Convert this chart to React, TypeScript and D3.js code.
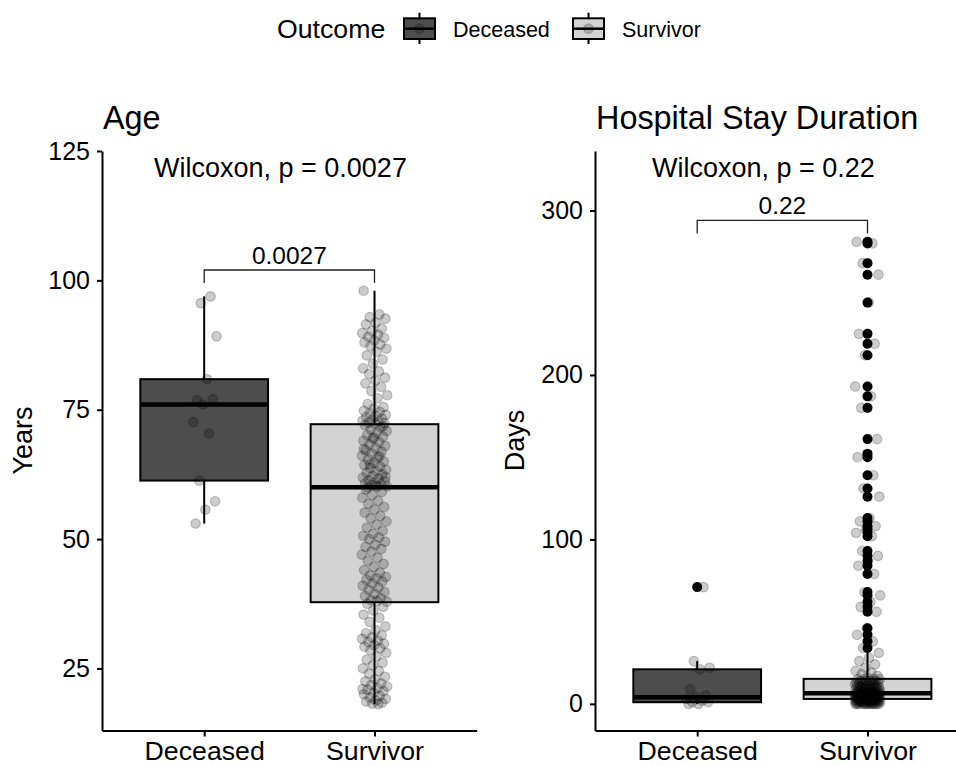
import { useEffect, useRef } from 'react';
import * as d3 from 'd3';

const groups = ['Deceased', 'Survivor'];

// Age (years)
const ageDeceased = [96.9, 95.6, 89.2, 80.9, 76.8, 77.0, 76.0, 72.6, 70.4, 61.3, 57.3, 55.7, 53.0];
const ageSurvivor = [
  98.0, 93.4, 92.9, 92.6, 91.8, 91.5, 90.7, 90.2, 89.8, 89.5, 89.1, 88.9, 88.4, 88.0, 87.6, 87.3,
  86.8, 86.2, 85.5, 84.7, 83.9, 83.0, 82.4, 81.9, 81.2, 80.6, 80.1, 79.4, 78.6, 77.8, 77.2, 76.1,
  75.5, 75.2, 74.8, 74.6, 74.3, 74.0, 73.8, 73.6, 73.3, 73.1, 72.9, 72.7, 72.5, 72.4, 72.3,
  72.0, 71.6, 71.2, 70.9, 70.5, 70.1, 69.8, 69.4, 69.0, 68.7, 68.3, 68.0, 67.6, 67.2, 66.9, 66.5,
  66.1, 65.8, 65.4, 65.0, 64.7, 64.3, 64.0, 63.7, 63.4, 63.1, 62.8, 62.5, 62.2, 61.9, 61.7, 61.4,
  61.2, 61.0, 60.8, 60.6, 60.4, 60.2, 60.1, 60.0, 71.8, 69.6, 67.4, 66.0, 64.5, 62.0, 60.3,
  59.6, 59.1, 58.5, 58.0, 57.4, 56.8, 56.2, 55.7, 55.1, 54.5, 54.0, 53.4, 52.8, 52.2, 51.6, 51.0,
  50.6, 50.3, 50.0, 49.5, 48.9, 48.5, 48.1, 47.6, 47.0, 46.4, 45.8, 45.2, 44.6, 44.0, 43.5, 43.0,
  42.7, 42.4, 42.1, 41.8, 41.4, 41.0, 40.6, 40.2, 39.8, 39.4, 39.0, 38.6, 38.2, 37.9, 38.0,
  37.5, 36.9, 36.2, 35.4, 34.8, 34.0, 33.1, 32.4, 31.8, 31.4, 31.0, 30.7, 30.4, 30.1, 29.8, 29.5,
  29.2, 28.9, 28.5, 28.0, 27.3, 26.7, 26.1, 25.6, 25.0, 24.5, 24.0, 23.4, 22.9, 22.5, 22.1, 21.8,
  21.5, 21.2, 20.9, 20.6, 20.3, 20.0, 19.7, 19.4, 19.1, 18.8, 18.6, 18.4, 18.2, 21.0, 18.1,
];

// Hospital stay (days)
const daysDeceased = [71, 26, 22, 21, 9, 5, 4, 3, 2, 1, 1, 0, 0];
const daysSurvivor = [
  281, 280, 268, 261, 244, 225, 219, 212, 193, 187, 180, 161, 152, 150, 139, 131, 126, 113, 111,
  108, 106, 104, 102, 93, 90, 87, 84, 79, 68, 66, 62, 59, 56, 46, 42, 38, 34,
  31, 28, 26, 24, 22, 20, 19, 18, 17, 16,
  15, 15, 15, 15, 14, 14, 14, 14, 13, 13, 13, 13, 13, 12, 12, 12, 12, 12, 11, 11, 11, 11, 11,
  10, 10, 10, 10, 10, 9, 9, 9, 9, 9, 9, 8, 8, 8, 8, 8, 8, 7, 7, 7, 7, 7, 7, 7,
  6, 6, 6, 6, 6, 6, 6, 6, 6, 6, 6, 6, 6, 6, 6, 5, 5, 5, 5, 5, 5, 5, 5, 5, 5, 5, 5, 5, 5, 5, 5,
  4, 4, 4, 4, 4, 4, 4, 4, 4, 4, 4, 4, 4, 4, 4, 4,
  3, 3, 3, 3, 3, 3, 3, 3, 3, 3, 3, 2, 2, 2, 2, 2, 2, 2, 2, 2, 2, 2, 2,
  1, 1, 1, 1, 1, 1, 1, 1, 1, 1, 1, 1, 0, 0, 0, 0, 0, 0, 0, 0, 0, 0, 0, 0,
];

// box stats: [lower whisker, Q1, median, Q3, upper whisker]
const ageBoxDeceased = [53.0, 61.3, 76.0, 80.9, 96.9];
const ageBoxSurvivor = [18.1, 37.8, 60.0, 72.2, 98.0];
const daysBoxDeceased = [0, 1, 4, 21, 26];
const daysBoxSurvivor = [0, 3, 6.5, 15.2, 32];

const ageTicks = [25, 50, 75, 100, 125];
const dayTicks = [0, 100, 200, 300];

const fills = ['#4d4d4d', '#d3d3d3'];
const FONT = '"Liberation Sans", Arial, sans-serif';

// deterministic horizontal spread, in [-1, 1)
const jitter = (i: number) => (((i + 1) * 0.618034 + 0.13) % 1) * 2 - 1;

function drawPanel(svg: any, o: any) {
  const x = d3.scalePoint().domain(groups).range([o.left, o.left + 374.7]).padding(0.6);
  const y = d3.scaleLinear().domain(o.domain).range([730.5, 151]);
  const step = x.step();
  const boxW = step * 0.75;
  const g = svg.append('g');

  // boxes
  o.boxes.forEach((b: number[], gi: number) => {
    const cx = x(groups[gi])!;
    g.append('line').attr('x1', cx).attr('x2', cx).attr('y1', y(b[3])).attr('y2', y(b[4]))
      .attr('stroke', '#000').attr('stroke-width', 2);
    g.append('line').attr('x1', cx).attr('x2', cx).attr('y1', y(b[1])).attr('y2', y(b[0]))
      .attr('stroke', '#000').attr('stroke-width', 2);
    g.append('rect')
      .attr('x', cx - boxW / 2).attr('width', boxW)
      .attr('y', y(b[3])).attr('height', y(b[1]) - y(b[3]))
      .attr('fill', fills[gi]).attr('stroke', '#000').attr('stroke-width', 2);
    g.append('line').attr('x1', cx - boxW / 2).attr('x2', cx + boxW / 2)
      .attr('y1', y(b[2])).attr('y2', y(b[2]))
      .attr('stroke', '#000').attr('stroke-width', 4.5);
    // outliers
    const outs = o.values[gi].filter((v: number) => v > b[4] || v < b[0]);
    g.selectAll(null).data(outs).join('circle')
      .attr('cx', cx).attr('cy', (v: number) => y(v)).attr('r', 5).attr('fill', '#000');
  });

  // jittered points
  o.values.forEach((vals: number[], gi: number) => {
    const cx = x(groups[gi])!;
    g.append('g').selectAll('circle').data(vals).join('circle')
      .attr('cx', (_: number, i: number) => cx + jitter(i + gi * 7) * 0.075 * step)
      .attr('cy', (v: number) => y(v))
      .attr('r', 4.8)
      .attr('fill', '#000').attr('fill-opacity', 0.2)
      .attr('stroke', '#000').attr('stroke-opacity', 0.2).attr('stroke-width', 1.2);
  });

  // axes
  const ya = svg.append('g').attr('transform', `translate(${o.left},0)`)
    .call(d3.axisLeft(y).tickValues(o.ticks).tickSize(5).tickSizeOuter(0).tickPadding(7));
  ya.select('.domain').attr('stroke-width', 2);
  ya.selectAll('.tick line').attr('stroke-width', 2);
  ya.selectAll('text').attr('font-size', 25).attr('font-family', FONT).attr('fill', '#000');

  const xa = svg.append('g').attr('transform', 'translate(0,730.5)')
    .call(d3.axisBottom(x).tickSize(6).tickSizeOuter(0).tickPadding(5));
  xa.select('.domain').attr('stroke-width', 2);
  xa.selectAll('.tick line').attr('stroke-width', 2);
  xa.selectAll('text').attr('font-size', 26.7).attr('font-family', FONT).attr('fill', '#000');

  // titles
  svg.append('text').attr('x', o.left + 1).attr('y', 129).attr('font-size', 32.4)
    .attr('font-family', FONT).text(o.title);
  svg.append('text').attr('x', o.yLabelX).attr('y', 440.5)
    .attr('transform', `rotate(-90, ${o.yLabelX}, 440.5)`)
    .attr('text-anchor', 'middle').attr('dominant-baseline', 'central')
    .attr('font-size', 27).attr('font-family', FONT).text(o.yLabel);
  svg.append('text').attr('x', o.statX).attr('y', 177).attr('font-size', 27)
    .attr('font-family', FONT).text(`Wilcoxon, p = ${o.p}`);

  // comparison bracket
  const x1 = x(groups[0])!;
  const x2 = x(groups[1])!;
  svg.append('path')
    .attr('d', `M${x1},${y(o.bracket[0])}V${y(o.bracket[1])}H${x2}V${y(o.bracket[0])}`)
    .attr('fill', 'none').attr('stroke', '#222').attr('stroke-width', 1.3);
  svg.append('text').attr('x', (x1 + x2) / 2).attr('y', y(o.bracket[1]) - 6)
    .attr('text-anchor', 'middle').attr('font-size', 24.5).attr('font-family', FONT)
    .text(o.p);
}

export default function App() {
  const svgRef = useRef<SVGSVGElement>(null);

  useEffect(() => {
    if (!svgRef.current) return;
    const svg = d3.select(svgRef.current);
    svg.selectAll('*').remove();

    drawPanel(svg, {
      left: 102, domain: [13, 125], ticks: ageTicks, title: 'Age', yLabel: 'Years', yLabelX: 23,
      statX: 154, p: '0.0027', bracket: [99.5, 102],
      boxes: [ageBoxDeceased, ageBoxSurvivor], values: [ageDeceased, ageSurvivor],
    });
    drawPanel(svg, {
      left: 595, domain: [-16.2, 336.2], ticks: dayTicks, title: 'Hospital Stay Duration',
      yLabel: 'Days', yLabelX: 515, statX: 652, p: '0.22', bracket: [286, 294],
      boxes: [daysBoxDeceased, daysBoxSurvivor], values: [daysDeceased, daysSurvivor],
    });

    // legend
    const lg = svg.append('g');
    lg.append('text').attr('x', 277).attr('y', 37.7).attr('font-size', 26.7)
      .attr('font-family', FONT).text('Outcome');
    const keyX = [404, 573];
    groups.forEach((name, i) => {
      const kx = keyX[i];
      const cx = kx + 15.5;
      lg.append('line').attr('x1', cx).attr('x2', cx).attr('y1', 12.7).attr('y2', 44)
        .attr('stroke', '#000').attr('stroke-width', 2);
      lg.append('rect').attr('x', kx).attr('y', 18.3).attr('width', 31).attr('height', 20.7)
        .attr('fill', fills[i]).attr('stroke', '#000').attr('stroke-width', 2);
      lg.append('line').attr('x1', kx).attr('x2', kx + 31).attr('y1', 28.7).attr('y2', 28.7)
        .attr('stroke', '#000').attr('stroke-width', 2.5);
      lg.append('circle').attr('cx', cx).attr('cy', 28.7).attr('r', 4.8)
        .attr('fill', '#000').attr('fill-opacity', 0.2)
        .attr('stroke', '#000').attr('stroke-opacity', 0.2).attr('stroke-width', 1.2);
      lg.append('text').attr('x', kx + 49).attr('y', 36.7).attr('font-size', 21.5)
        .attr('font-family', FONT).text(name);
    });
  }, []);

  return (
    <svg ref={svgRef} width={956} height={766}
      style={{ position: 'absolute', left: 0, top: 0, background: '#fff' }} />
  );
}
